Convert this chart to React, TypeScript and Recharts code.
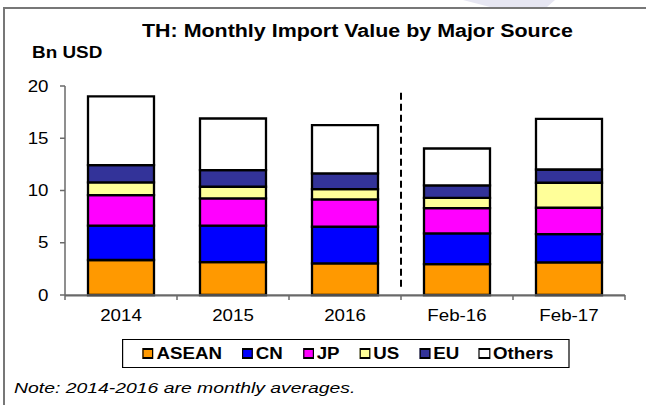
import React from 'react';
import { BarChart, Bar, XAxis, YAxis, ReferenceLine, ReferenceArea, Legend } from 'recharts';

// categories and series (Bn USD)
const categories = ['2014', '2015', '2016', 'Feb-16', 'Feb-17'];
const asean = [3.35, 3.15, 3.03, 2.96, 3.13];
const cn = [3.28, 3.48, 3.5, 2.94, 2.7];
const jp = [2.93, 2.61, 2.62, 2.42, 2.52];
const us = [1.21, 1.12, 0.98, 0.98, 2.39];
const eu = [1.66, 1.59, 1.5, 1.19, 1.27];
const others = [6.57, 4.94, 4.62, 3.53, 4.85];
const yTicks = [0, 5, 10, 15, 20];

const series = [
    { key: 'ASEAN', values: asean, color: '#FF9900' },
    { key: 'CN', values: cn, color: '#0000FF' },
    { key: 'JP', values: jp, color: '#FF00FF' },
    { key: 'US', values: us, color: '#FFFF99' },
    { key: 'EU', values: eu, color: '#333399' },
    { key: 'Others', values: others, color: '#FFFFFF' },
];

const rows = categories.map((name, i) => {
    const row: Record<string, string | number> = { name };
    series.forEach((s) => {
        row[s.key] = s.values[i];
    });
    return row;
});

const FONT = '"Liberation Sans", Arial, sans-serif';
const AXIS_COLOR = '#6a6a6a';

// the source text is wider than plain Arial, so it is stretched a little
const XTick = (props: any) => {
    const { x, y, payload } = props;
    return (
        <g transform={`translate(${x},${y})`}>
            <text textAnchor="middle" dy="0.71em" transform="scale(1.2,1)" fontSize={15.6} fontFamily={FONT} fill="#000">
                {payload.value}
            </text>
        </g>
    );
};

const YTick = (props: any) => {
    const { x, y, payload } = props;
    return (
        <g transform={`translate(${x},${y})`}>
            <text textAnchor="end" dy="0.355em" transform="scale(1.2,1)" fontSize={15.6} fontFamily={FONT} fill="#000">
                {payload.value}
            </text>
        </g>
    );
};

const LegendBox = (props: any) => {
    const { payload } = props;
    return (
        <div
            style={{
                boxSizing: 'border-box',
                width: 372.5,
                height: 29,
                border: '1px solid #000',
                background: '#fff',
                display: 'flex',
                alignItems: 'center',
                paddingLeft: 16,
                gap: 16.5,
                fontFamily: FONT,
            }}
        >
            {(payload || []).map((entry: any) => (
                <span key={entry.value} style={{ display: 'flex', alignItems: 'center' }}>
                    <span
                        style={{
                            boxSizing: 'border-box',
                            width: 9.2,
                            height: 11,
                            background: entry.color,
                            borderStyle: 'solid',
                            borderColor: '#000',
                            borderWidth: '2px 1.7px',
                            marginRight: 2.5,
                        }}
                    />
                    <span style={{ fontWeight: 'bold', fontSize: 15.6, lineHeight: '16px', color: '#000' }}>
                        {entry.value}
                    </span>
                </span>
            ))}
        </div>
    );
};

const App: React.FC = () => {
    return (
        <div
            style={{
                position: 'absolute',
                left: 0,
                top: 0,
                width: 646,
                height: 405,
                overflow: 'hidden',
                background: '#fff',
                fontFamily: FONT,
            }}
        >
            {/* outer frame */}
            <div
                style={{
                    position: 'absolute',
                    left: 3,
                    top: 7,
                    width: 700,
                    height: 500,
                    borderTop: '2px solid #777',
                    borderLeft: '2px solid #777',
                }}
            />
            {/* faint watermark at the top */}
            <svg width={646} height={8} style={{ position: 'absolute', left: 0, top: 0 }}>
                <polygon points="463,0 555,0 547,7 490,7" fill="#E6E6F2" />
            </svg>

            {/* title */}
            <div
                style={{
                    position: 'absolute',
                    left: 142,
                    top: 21.5,
                    fontSize: 18,
                    lineHeight: '18px',
                    fontWeight: 'bold',
                    whiteSpace: 'nowrap',
                    transform: 'scaleX(1.19)',
                    transformOrigin: '0 0',
                }}
            >
                TH: Monthly Import Value by Major Source
            </div>
            <div
                style={{
                    position: 'absolute',
                    left: 32,
                    top: 44.8,
                    fontSize: 16,
                    lineHeight: '16px',
                    fontWeight: 'bold',
                    whiteSpace: 'nowrap',
                    transform: 'scaleX(1.18)',
                    transformOrigin: '0 0',
                }}
            >
                Bn USD
            </div>

            <BarChart
                width={646}
                height={405}
                data={rows}
                margin={{ top: 86, right: 21, left: 0, bottom: 80 }}
                barSize={66}
                style={{ position: 'absolute', left: 0, top: 0 }}
            >
                <XAxis
                    dataKey="name"
                    height={30}
                    axisLine={{ stroke: AXIS_COLOR, strokeWidth: 1.5 }}
                    tickLine={false}
                    tickSize={5}
                    tickMargin={10}
                    interval={0}
                    tick={<XTick />}
                />
                <YAxis
                    domain={[0, 20]}
                    ticks={yTicks}
                    width={65}
                    tickSize={5}
                    tickMargin={11.5}
                    axisLine={{ stroke: AXIS_COLOR, strokeWidth: 1.5 }}
                    tickLine={{ stroke: AXIS_COLOR, strokeWidth: 1.5 }}
                    tick={<YTick />}
                />
                {/* category axis baseline, drawn as a thin band so it always shows */}
                <ReferenceArea y1={-0.14} y2={0} ifOverflow="visible" fill={AXIS_COLOR} fillOpacity={1} stroke="none" />
                {series.map((s) => (
                    <Bar
                        key={s.key}
                        dataKey={s.key}
                        stackId="a"
                        fill={s.color}
                        stroke="#000"
                        strokeWidth={2.3}
                        isAnimationActive={false}
                    />
                ))}
                {/* Excel-style tick marks on the category boundaries */}
                {categories.map((c) => (
                    <ReferenceLine
                        key={`tick-${c}`}
                        position="start"
                        ifOverflow="visible"
                        segment={[
                            { x: c, y: 0 },
                            { x: c, y: -0.48 },
                        ]}
                        stroke={AXIS_COLOR}
                        strokeWidth={1.5}
                    />
                ))}
                <ReferenceLine
                    position="end"
                    ifOverflow="visible"
                    segment={[
                        { x: categories[categories.length - 1], y: 0 },
                        { x: categories[categories.length - 1], y: -0.48 },
                    ]}
                    stroke={AXIS_COLOR}
                    strokeWidth={1.5}
                />
                {/* divider between the yearly averages and the monthly bars */}
                <ReferenceLine
                    position="start"
                    segment={[
                        { x: 'Feb-16', y: 0.8 },
                        { x: 'Feb-16', y: 19.5 },
                    ]}
                    stroke="#000"
                    strokeWidth={2}
                    strokeDasharray="7 4"
                />
                <Legend
                    verticalAlign="middle"
                    align="center"
                    itemSorter={(item: any) => series.findIndex((s) => s.key === item.value)}
                    content={<LegendBox />}
                    wrapperStyle={{
                        position: 'absolute',
                        left: 122,
                        top: 339,
                        width: 372.5,
                        height: 29,
                        transform: 'scaleX(1.2)',
                        transformOrigin: '0 0',
                    }}
                />
            </BarChart>

            {/* footnote */}
            <div
                style={{
                    position: 'absolute',
                    left: 13.5,
                    top: 379.6,
                    fontSize: 15.5,
                    lineHeight: '15.5px',
                    fontStyle: 'italic',
                    whiteSpace: 'nowrap',
                    transform: 'scaleX(1.25)',
                    transformOrigin: '0 0',
                }}
            >
                Note: 2014-2016 are monthly averages.
            </div>
        </div>
    );
};

export default App;
